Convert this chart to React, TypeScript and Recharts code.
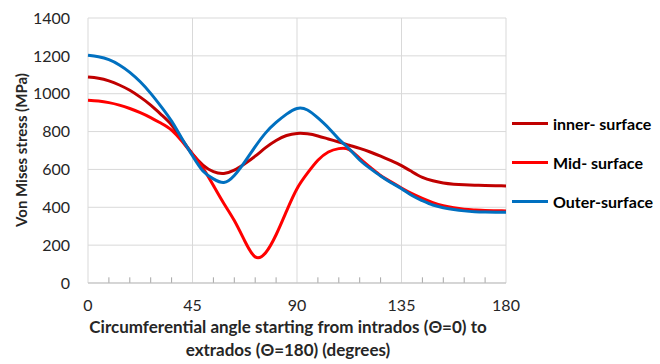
import { LineChart, Line, XAxis, YAxis, CartesianGrid, Legend, ReferenceLine } from "recharts";

// angle samples every 4.5 degrees
const angles = [0, 4.5, 9, 13.5, 18, 22.5, 27, 31.5, 36, 40.5, 45, 49.5, 54, 58.5, 63, 67.5, 72, 76.5, 81, 85.5, 90, 94.5, 99, 103.5, 108, 112.5, 117, 121.5, 126, 130.5, 135, 139.5, 144, 148.5, 153, 157.5, 162, 166.5, 171, 175.5, 180];
const innerSurface = [1088, 1082, 1068, 1046, 1018, 982, 940, 890, 835, 757, 682, 623, 588, 579, 596, 630, 670, 715, 753, 779, 790, 788, 777, 761, 745, 728, 711, 692, 670, 646, 620, 588, 558, 540, 528, 522, 519, 517, 515, 514, 513];
const midSurface = [965, 961, 953, 940, 922, 900, 874, 844, 808, 748, 680, 607, 515, 420, 330, 222, 138, 160, 255, 380, 498, 580, 648, 692, 710, 705, 658, 612, 568, 534, 502, 472, 447, 425, 408, 397, 390, 386, 383, 382, 381];
const outerSurface = [1203, 1195, 1180, 1152, 1113, 1063, 1002, 932, 855, 762, 672, 592, 550, 531, 568, 640, 720, 793, 848, 892, 922, 914, 872, 820, 760, 708, 650, 605, 565, 530, 498, 462, 435, 412, 398, 388, 381, 377, 375, 374, 374];

const xTicks = [0, 45, 90, 135, 180];
const minorTicks = [9, 18, 27, 36, 54, 63, 72, 81, 99, 108, 117, 126, 144, 153, 162, 171];
const yTicks = [0, 200, 400, 600, 800, 1000, 1200, 1400];
const minorTickLength = 30; // in MPa, short marks standing on the axis

const seriesNames = ["inner- surface", "Mid- surface", "Outer-surface"];

const data = angles.map((a, i) => ({
  angle: a,
  inner: innerSurface[i],
  mid: midSurface[i],
  outer: outerSurface[i],
}));

const FONT = "Lato, 'Open Sans', sans-serif";
const GRID = "#D9D9D9";
const TEXT = "#262626";

const LegendList = ({ payload }: any) => {
  const items = [...(payload || [])].sort(
    (a: any, b: any) => seriesNames.indexOf(a.value) - seriesNames.indexOf(b.value)
  );
  return (
    <div style={{ fontFamily: FONT, fontWeight: 700, fontSize: 16, color: "#000" }}>
      {items.map((p: any) => (
        <div key={p.value} style={{ display: "flex", alignItems: "center", height: 39 }}>
          <span style={{ display: "inline-block", width: 36, height: 3, background: p.color, marginRight: 5 }} />
          <span>{p.value}</span>
        </div>
      ))}
    </div>
  );
};

const XTitle = ({ viewBox }: any) => {
  const cx = viewBox.x + viewBox.width / 2 - 9;
  return (
    <text x={cx} textAnchor="middle" fontFamily={FONT} fontWeight={700} fontSize={17} fill={TEXT}>
      <tspan x={cx} y={333}>Circumferential angle starting from intrados (Θ=0) to</tspan>
      <tspan x={cx} y={356}>extrados (Θ=180) (degrees)</tspan>
    </text>
  );
};

const YTitle = () => (
  <text
    x={27}
    y={150}
    transform="rotate(-90 27 150)"
    textAnchor="middle"
    fontFamily={FONT}
    fontWeight={700}
    fontSize={15}
    fill={TEXT}
  >
    Von Mises stress (MPa)
  </text>
);

export default function App() {
  return (
    <div style={{ position: "absolute", left: 0, top: 0, width: 660, height: 364, background: "#fff" }}>
      <LineChart width={660} height={364} data={data} margin={{ top: 18, right: 4, left: 0, bottom: 0 }}>
        <CartesianGrid stroke={GRID} vertical={false} />
        {xTicks.map((t) => (
          <ReferenceLine key={`g${t}`} x={t} stroke={GRID} />
        ))}
        {minorTicks.map((t) => (
          <ReferenceLine
            key={`m${t}`}
            segment={[{ x: t, y: 0 }, { x: t, y: minorTickLength }]}
            stroke="#A6A6A6"
          />
        ))}
        <XAxis
          dataKey="angle"
          type="number"
          domain={[0, 180]}
          ticks={xTicks}
          interval={0}
          height={81}
          tickLine={false}
          tickSize={0}
          tickMargin={17}
          axisLine={{ stroke: "#BFBFBF" }}
          tick={{ fill: TEXT, fontFamily: FONT, fontSize: 16 }}
          label={<XTitle />}
        />
        <YAxis
          type="number"
          domain={[0, 1400]}
          ticks={yTicks}
          width={88}
          axisLine={false}
          tickLine={false}
          tickSize={0}
          tickMargin={18}
          tick={{ fill: TEXT, fontFamily: FONT, fontSize: 16 }}
          label={<YTitle />}
        />
        <Legend
          layout="vertical"
          align="right"
          verticalAlign="middle"
          width={150}
          content={<LegendList />}
          wrapperStyle={{ left: 512, top: 104 }}
        />
        <Line name={seriesNames[0]} type="natural" dataKey="inner" stroke="#C00000" strokeWidth={3} dot={false} isAnimationActive={false} />
        <Line name={seriesNames[1]} type="natural" dataKey="mid" stroke="#FF0000" strokeWidth={3} dot={false} isAnimationActive={false} />
        <Line name={seriesNames[2]} type="natural" dataKey="outer" stroke="#0070C0" strokeWidth={3} dot={false} isAnimationActive={false} />
      </LineChart>
    </div>
  );
}
